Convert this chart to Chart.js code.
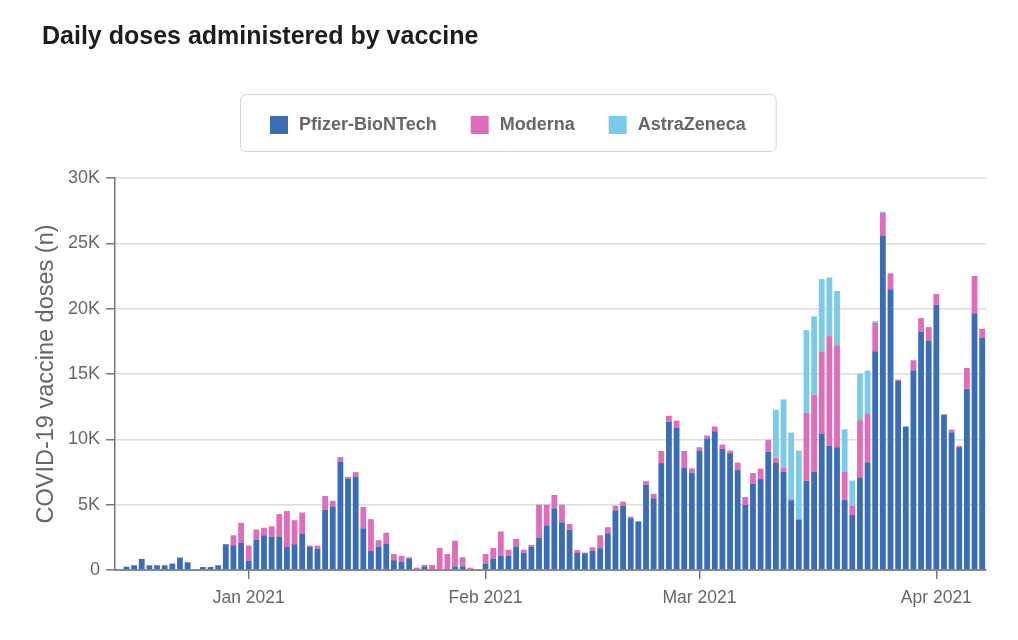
<!DOCTYPE html>
<html>
<head>
<meta charset="utf-8">
<script src="https://cdn.jsdelivr.net/npm/chart.js@4.4.1/dist/chart.umd.min.js"></script>
<style>
  html, body { margin: 0; padding: 0; background: #fff; }
  #wrap { position: relative; width: 1018px; height: 640px; }
</style>
</head>
<body>
<div id="wrap"><canvas id="chart" width="1018" height="640"></canvas></div>
<script>
const titleText = 'Daily doses administered by vaccine';
const yTitle = 'COVID-19 vaccine doses (n)';
const seriesNames = ['Pfizer-BioNTech', 'Moderna', 'AstraZeneca'];
const seriesColors = ['#3a6db4', '#e06db9', '#7ccae9'];

// one bar per day, first day has no doses
const firstDay = '2020-12-15';
const lastDay = '2021-04-07';
const monthTicks = {
  '2021-01-01': 'Jan 2021',
  '2021-02-01': 'Feb 2021',
  '2021-03-01': 'Mar 2021',
  '2021-04-01': 'Apr 2021'
};

const pfizer = [
  // Dec 15 - Dec 31
  0, 250, 360, 850, 360, 360, 360, 490, 950, 590, 0, 230, 230, 360, 1970, 1900, 2070,
  // Jan
  720, 2330, 2660, 2560, 2560, 1770, 1970, 2790, 1770, 1640, 4630, 4860, 8300, 7000, 7150, 3190,
  1450, 1790, 2020, 750, 620, 880, 50, 280, 0, 0, 0, 280, 280, 0, 0,
  // Feb
  490, 880, 1090, 1090, 1790, 1320, 1790, 2490, 3420, 4720, 3650, 3080, 1300, 1280,
  1480, 1670, 2810, 4560, 4900, 3960, 3720, 6540, 5490, 8180, 11330, 10860, 7840, 7450,
  // Mar
  9140, 10090, 10620, 9270, 8940, 7650, 4990, 6600, 6960, 9040, 8220, 7530, 5330, 3870, 6840, 7530,
  10420, 9500, 9400, 5350, 4220, 7090, 8240, 16740, 25600, 21480, 14460, 10980, 15260, 18230, 17560,
  // Apr
  20300, 11900, 10550, 9400, 13880, 19640, 17790
];

const moderna = [
  // Dec 15 - Dec 31
  0, 0, 0, 0, 0, 0, 0, 0, 0, 0, 0, 0, 0, 0, 0, 760, 1540,
  // Jan
  1150, 770, 570, 790, 1720, 2740, 1840, 1610, 100, 230, 1030, 440, 340, 130, 340, 1630,
  2440, 490, 830, 470, 470, 100, 130, 110, 390, 1680, 1220, 1970, 700, 180, 0,
  // Feb
  730, 800, 1860, 460, 590, 230, 130, 2510, 1580, 1030, 1350, 440, 220, 50,
  260, 990, 470, 360, 330, 130, 0, 260, 340, 930, 470, 570, 1270, 330,
  // Mar
  260, 200, 360, 330, 200, 570, 590, 820, 800, 920, 360, 280, 120, 0, 5180, 5890,
  6320, 8400, 7800, 2200, 700, 4380, 3690, 2180, 1720, 1230, 110, 0, 790, 1050, 1030,
  // Apr
  820, 0, 200, 100, 1580, 2860, 670
];

const astraZeneca = [
  // Dec 15 - Dec 31
  0, 0, 0, 0, 0, 0, 0, 0, 0, 0, 0, 0, 0, 0, 0, 0, 0,
  // Jan
  0, 0, 0, 0, 0, 0, 0, 0, 0, 0, 0, 0, 0, 0, 0, 0,
  0, 0, 0, 0, 0, 0, 0, 0, 0, 0, 0, 0, 0, 0, 0,
  // Feb
  0, 0, 0, 0, 0, 0, 0, 0, 0, 0, 0, 0, 0, 0,
  0, 0, 0, 0, 0, 0, 0, 0, 0, 0, 0, 0, 0, 0,
  // Mar
  0, 0, 0, 0, 0, 0, 0, 0, 0, 0, 3680, 5250, 5070, 5270, 6340, 5990,
  5530, 4480, 4150, 3230, 1920, 3560, 3330, 130, 100, 0, 0, 0, 0, 0, 0,
  // Apr
  0, 0, 0, 0, 0, 0, 0
];

const days = [];
for (let t = Date.parse(firstDay); t <= Date.parse(lastDay); t += 86400000) {
  days.push(new Date(t).toISOString().slice(0, 10));
}

Chart.defaults.font.family = '"Liberation Sans", Arial, Helvetica, sans-serif';
Chart.defaults.color = '#666';

// title and boxed legend drawn above the plot
const headerPlugin = {
  id: 'header',
  afterDraw(chart) {
    const c = chart.ctx;
    c.save();
    c.fillStyle = '#1d1d1d';
    c.font = 'bold 25px "Liberation Sans", Arial, sans-serif';
    c.textBaseline = 'alphabetic';
    c.fillText(titleText, 42, 44);

    c.font = 'bold 18px "Liberation Sans", Arial, sans-serif';
    const items = chart.data.datasets.map(ds => ({
      text: ds.label,
      color: ds.backgroundColor,
      w: 18 + 11 + c.measureText(ds.label).width
    }));
    const gap = 34, pad = 30;
    const total = items.reduce((s, it) => s + it.w, 0) + gap * (items.length - 1);
    let x = Math.round(507.5 - total / 2);
    c.beginPath();
    c.roundRect(x - pad + 0.5, 94.5, total + 2 * pad, 57, 6);
    c.strokeStyle = '#d2d2d2';
    c.lineWidth = 1;
    c.stroke();
    c.textBaseline = 'middle';
    items.forEach(it => {
      c.fillStyle = it.color;
      c.fillRect(x, 116, 18, 18);
      c.fillStyle = '#666';
      c.fillText(it.text, x + 29, 125.5);
      x += it.w + gap;
    });
    c.restore();
  }
};

const ctx = document.getElementById('chart').getContext('2d');
new Chart(ctx, {
  type: 'bar',
  data: {
    labels: days,
    datasets: [
      { label: seriesNames[0], data: pfizer, backgroundColor: seriesColors[0] },
      { label: seriesNames[1], data: moderna, backgroundColor: seriesColors[1] },
      { label: seriesNames[2], data: astraZeneca, backgroundColor: seriesColors[2] }
    ]
  },
  options: {
    responsive: false,
    animation: false,
    layout: { padding: { left: 30, right: 32, top: 178, bottom: 10 } },
    datasets: { bar: { categoryPercentage: 1, barPercentage: 0.76 } },
    plugins: {
      legend: { display: false },
      tooltip: { enabled: false }
    },
    scales: {
      x: {
        stacked: true,
        grid: {
          drawOnChartArea: false,
          offset: false,
          tickLength: 9,
          lineWidth: 1.5,
          color: c => monthTicks[days[c.index]] ? '#777' : 'rgba(0,0,0,0)'
        },
        border: { color: '#8a8a8a', width: 2 },
        ticks: {
          autoSkip: false,
          maxRotation: 0,
          padding: 9,
          color: '#666',
          font: { size: 17.5 },
          callback: (v, i) => monthTicks[days[i]] || ''
        },
        afterFit: s => { s.height = 60; }
      },
      y: {
        stacked: true,
        min: 0,
        max: 30000,
        grid: { color: '#dcdcdc', lineWidth: 1.5, tickColor: '#777', tickLength: 9 },
        border: { color: '#777', width: 1.5 },
        ticks: {
          stepSize: 5000,
          padding: 6,
          color: '#666',
          font: { size: 18 },
          callback: v => v === 0 ? '0' : (v / 1000) + 'K'
        },
        title: {
          display: true,
          text: yTitle,
          color: '#666',
          font: { size: 23.5 },
          padding: { top: 2, bottom: 0 }
        },
        afterFit: s => { s.width = 85; }
      }
    }
  },
  plugins: [headerPlugin]
});
</script>
</body>
</html>
